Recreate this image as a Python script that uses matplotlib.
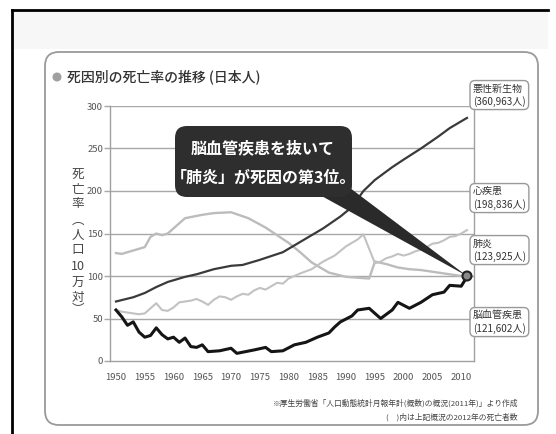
import matplotlib
matplotlib.use("Agg")
import matplotlib.pyplot as plt
from matplotlib.patches import FancyBboxPatch, Polygon, Rectangle, Circle

plt.rcParams["font.family"] = ["Noto Sans CJK JP", "DejaVu Sans"]

# --- data ---
years_cancer = [1950, 1953, 1955, 1957, 1959, 1962, 1964, 1967, 1970, 1972, 1975, 1979, 1982,
                1986, 1989, 1991, 1993, 1995, 1998, 2000, 2003, 2006, 2008, 2010, 2011]
rate_cancer = [70, 75, 80, 87, 93, 99, 102, 108, 112, 113, 119, 128, 140,
               156, 170, 181, 200, 213, 228, 237, 250, 264, 274, 282, 286]

years_cerebro = [1950, 1951, 1953, 1955, 1956, 1957, 1958, 1959, 1961, 1962, 1965, 1967, 1970,
                 1973, 1976, 1978, 1980, 1982, 1984, 1987, 1990, 1994, 1995, 1997, 1999, 2001,
                 2003, 2005, 2007, 2009, 2011]
rate_cerebro = [127, 126, 130, 134, 146, 150, 148, 150, 162, 168, 172, 174, 175,
                168, 157, 148, 139, 128, 116, 104, 99, 97, 117, 114, 110, 108,
                107, 105, 103, 101, 99]

years_heart = [1950, 1951, 1952, 1953, 1954, 1955, 1956, 1957, 1958, 1959, 1960, 1961, 1962,
               1963, 1964, 1965, 1966, 1967, 1968, 1969, 1970, 1971, 1972, 1973, 1974, 1975,
               1976, 1977, 1978, 1979, 1980, 1982, 1984, 1986, 1988, 1990, 1991, 1992, 1993,
               1995, 1996, 1997, 1998, 1999, 2000, 2001, 2002, 2003, 2004, 2005, 2006, 2007,
               2008, 2009, 2010, 2011]
rate_heart = [60, 58, 57, 56, 55, 56, 62, 68, 60, 59, 63, 69, 70,
              71, 73, 70, 66, 72, 76, 75, 72, 76, 79, 78, 83, 86,
              84, 88, 92, 91, 97, 103, 108, 117, 124, 135, 139, 143, 149,
              115, 117, 121, 123, 126, 124, 126, 129, 131, 134, 138, 139, 142,
              146, 147, 150, 154]

years_pneu = [1950, 1951, 1952, 1953, 1954, 1955, 1956, 1957, 1958, 1959, 1960, 1961, 1962,
              1963, 1964, 1965, 1966, 1968, 1970, 1971, 1974, 1976, 1977, 1979, 1981, 1983,
              1985, 1987, 1988, 1989, 1991, 1992, 1994, 1996, 1998, 1999, 2001, 2003, 2005,
              2007, 2008, 2010, 2011]
rate_pneu = [60, 52, 42, 46, 34, 28, 30, 39, 31, 26, 28, 22, 27,
             17, 16, 19, 11, 12, 15, 9, 13, 16, 11, 12, 19, 22,
             28, 33, 40, 46, 53, 60, 62, 50, 60, 69, 62, 69, 78,
             81, 89, 88, 99]

x_ticks = [1950, 1955, 1960, 1965, 1970, 1975, 1980, 1985, 1990, 1995, 2000, 2005, 2010]
y_ticks = [0, 50, 100, 150, 200, 250, 300]

title = "死因別の死亡率の推移 (日本人)"
ylabel_chars = ["死", "亡", "率", "︵", "人", "口", "10", "万", "対", "︶"]
right_labels = [
    ("悪性新生物\n(360,963人)", 95),
    ("心疾患\n(198,836人)", 198),
    ("肺炎\n(123,925人)", 250),
    ("脳血管疾患\n(121,602人)", 322),
]
callout_lines = ["脳血管疾患を抜いて", "「肺炎」が死因の第3位。"]
note_lines = ["※厚生労働省「人口動態統計月報年計(概数)の概況(2011年)」より作成",
              "(　)内は上記概況の2012年の死亡者数"]

W, H = 556, 434
fig = plt.figure(figsize=(W / 100, H / 100), dpi=100)
fig.patch.set_facecolor("white")

# data axes: x 110..474 px, y 106..361 px
ax = fig.add_axes([110 / W, (H - 361) / H, 364 / W, 255 / H])
ax.set_xlim(1948.96, 2012.22)
ax.set_ylim(0, 300)
ax.set_facecolor("none")

ax.plot(years_cerebro, rate_cerebro, color="#bcbcbc", lw=1.7, zorder=3)
ax.plot(years_heart, rate_heart, color="#c2c2c2", lw=1.5, zorder=3)
ax.plot(years_cancer, rate_cancer, color="#3a3a3a", lw=1.6, zorder=4)
ax.plot(years_pneu, rate_pneu, color="#151515", lw=2.2, zorder=5)

for v in y_ticks[1:]:
    ax.axhline(v, color="#a8a8a8", lw=1.0, zorder=1)

ax.set_xticks(x_ticks)
ax.set_xticklabels([str(x) for x in x_ticks], fontsize=6.8, color="#555")
ax.tick_params(axis="x", length=0, pad=9)
ax.set_yticks(y_ticks)
ax.set_yticklabels([str(v) for v in y_ticks], fontsize=6.8, color="#555")
ax.tick_params(axis="y", length=4, width=1, color="#a8a8a8", pad=1)
for side in ["left", "bottom", "right"]:
    ax.spines[side].set_color("#a0a0a0")
    ax.spines[side].set_linewidth(1.0)
ax.spines["top"].set_visible(False)

# overlay in pixel coordinates for the frame, labels and the callout
ov = fig.add_axes([0, 0, 1, 1])
ov.set_xlim(0, W)
ov.set_ylim(H, 0)
ov.axis("off")
ov.patch.set_alpha(0)
ov.set_zorder(5)

ov.add_patch(Rectangle((13, 11), 535, 38, fc="#f7f7f7", ec="none"))
ov.plot([12, 12], [10, H], color="black", lw=2)
ov.plot([12, 548], [10, 10], color="black", lw=2)

ov.add_patch(FancyBboxPatch((45, 52), 493, 373, boxstyle="round,pad=0,rounding_size=14",
                            fc="none", ec="#9a9a9a", lw=1.3))

ov.add_patch(Circle((57, 77), 4.5, fc="#a0a0a0", ec="none"))
ov.text(67, 77, title, fontsize=10, color="#333", va="center", ha="left", fontweight="medium")

ylabel_pos = [175, 189, 203, 220, 235, 250, 267, 283, 297, 310]
for ch, yy in zip(ylabel_chars, ylabel_pos):
    ov.text(78, yy, ch, fontsize=9, color="#444", ha="center", va="center")

for txt, yy in right_labels:
    ov.text(473, yy, txt, fontsize=7.2, color="#333", ha="left", va="center", linespacing=1.25,
            bbox=dict(boxstyle="round,pad=0.3,rounding_size=0.5", fc="white", ec="#999", lw=1))

for i, line in enumerate(note_lines):
    ov.text(518, 403 + i * 14, line, fontsize=5.6, color="#444", ha="right", va="center")

# callout pointing at the 2011 point
px, py = ax.transData.transform((2011, 100))
tip = (px, H - py)
ov.add_patch(Polygon([(318, 194), (350, 188), tip], closed=True, fc="#2a2a2a", ec="none"))
ov.add_patch(FancyBboxPatch((175, 126), 177, 71, boxstyle="round,pad=0,rounding_size=12",
                            fc="#2e2e2e", ec="none"))
ov.text(263, 148, callout_lines[0], fontsize=11.5, color="white", fontweight="bold",
        ha="center", va="center")
ov.text(263, 178, callout_lines[1], fontsize=11.5, color="white", fontweight="bold",
        ha="center", va="center")
ov.add_patch(Circle(tip, 4.5, fc="#8a8a8a", ec="#222", lw=1.5))

fig.savefig("out.png", dpi=100)
